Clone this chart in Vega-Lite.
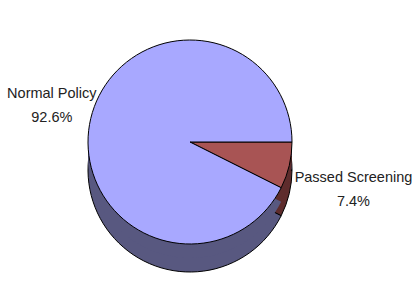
{
  "$schema": "https://vega.github.io/schema/vega-lite/v6.json",
  "width": 380,
  "height": 284,
  "autosize": {"type": "none"},
  "padding": {"left": 0, "top": 0, "right": 32, "bottom": 12},
  "background": "white",
  "config": {"view": {"stroke": null}},
  "data": {
    "values": [
      {"category": "Passed Screening", "value": 7.4, "order": 1, "label": "Passed Screening\n7.4%"},
      {"category": "Normal Policy", "value": 92.6, "order": 2, "label": "Normal Policy\n92.6%"}
    ]
  },
  "encoding": {
    "theta": {"field": "value", "type": "quantitative", "stack": true, "scale": {"range": [1.5708, 7.854]}},
    "order": {"field": "order", "type": "quantitative"}
  },
  "layer": [
    {
      "mark": {"type": "arc", "radius": 102, "yOffset": 28, "stroke": "black", "strokeWidth": 1},
      "encoding": {
        "color": {"field": "category", "type": "nominal", "legend": null,
          "scale": {"domain": ["Normal Policy", "Passed Screening"], "range": ["#585880", "#5E2C2C"]}}
      }
    },
    {
      "mark": {"type": "arc", "radius": 102, "yOffset": 14},
      "encoding": {
        "color": {"field": "category", "type": "nominal", "legend": null,
          "scale": {"domain": ["Normal Policy", "Passed Screening"], "range": ["#585880", "#5E2C2C"]}}
      }
    },
    {
      "mark": {"type": "arc", "radius": 102, "stroke": "black", "strokeWidth": 1},
      "encoding": {
        "color": {"field": "category", "type": "nominal", "legend": null,
          "scale": {"domain": ["Normal Policy", "Passed Screening"], "range": ["#A8A8FF", "#A85454"]}}
      }
    },
    {
      "mark": {"type": "text", "radius": 142, "dy": -15, "font": "Liberation Sans", "fontSize": 14.5, "lineHeight": 24, "lineBreak": "\n", "color": "#222222", "align": "center", "baseline": "middle"},
      "encoding": {"text": {"condition": {"test": "datum.category == 'Normal Policy'", "field": "label"}, "value": ""}}
    },
    {
      "mark": {"type": "text", "radius": 168, "dy": -3, "font": "Liberation Sans", "fontSize": 14.5, "lineHeight": 24, "lineBreak": "\n", "color": "#222222", "align": "center", "baseline": "middle"},
      "encoding": {"text": {"condition": {"test": "datum.category == 'Passed Screening'", "field": "label"}, "value": ""}}
    }
  ],
  "resolve": {"scale": {"color": "independent"}}
}
